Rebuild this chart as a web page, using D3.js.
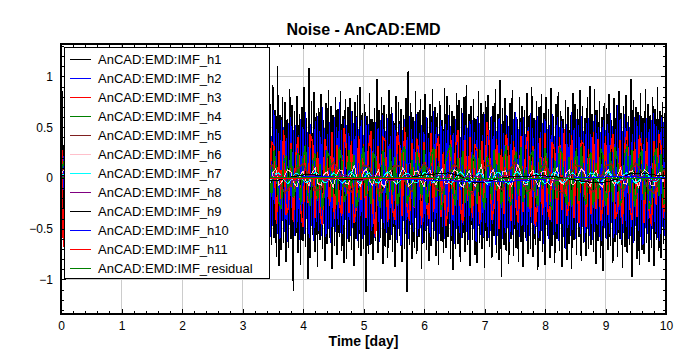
<!DOCTYPE html>
<html>
<head>
<meta charset="utf-8">
<script src="https://cdn.jsdelivr.net/npm/d3@7"></script>
<style>
  body { margin: 0; background: #fff; }
  text { font-family: Arial, "Liberation Sans", sans-serif; }
</style>
</head>
<body>
<svg id="chart" width="688" height="352"></svg>
<script>
// ---- data ----
var seriesNames = ["AnCAD:EMD:IMF_h1", "AnCAD:EMD:IMF_h2", "AnCAD:EMD:IMF_h3", "AnCAD:EMD:IMF_h4",
    "AnCAD:EMD:IMF_h5", "AnCAD:EMD:IMF_h6", "AnCAD:EMD:IMF_h7", "AnCAD:EMD:IMF_h8",
    "AnCAD:EMD:IMF_h9", "AnCAD:EMD:IMF_h10", "AnCAD:EMD:IMF_h11", "AnCAD:EMD:IMF_residual"];
var seriesColors = ["#000000", "#0000ff", "#ff0000", "#008000", "#802020", "#ffc0cb",
    "#00ffff", "#800080", "#000000", "#0000ff", "#ff0000", "#008000"];
// sample spacing (days) of each stored series, all starting at t = 0
var seriesSteps = [0.02, 0.02, 0.04, 0.04, 0.1, 0.05, 0.05, 0.1, 0.2, 0.5, 1, 1];
// drawn line widths
var seriesWidths = [1.5, 1, 1.5, 1.5, 1.5, 1, 1, 1, 1, 1, 1.5, 1];

var xTicks = [0, 1, 2, 3, 4, 5, 6, 7, 8, 9, 10];
var yTicks = [-1, -0.5, 0, 0.5, 1];

var h1 = [
  -0.92, 0.86, -0.61, 0.72, -0.55, 0.48, -0.77, 0.63, -0.42, 0.81,
  -0.66, 0.57, -0.83, 0.39, -0.58, 0.74, -0.49, 0.92, -0.71, 0.53,
  -0.62, 0.68, -0.88, 0.45, -0.51, 0.79, -0.67, 0.58, -0.74, 0.61,
  -0.46, 0.85, -0.59, 0.47, -0.96, 0.66, -0.53, 0.72, -0.64, 0.51,
  -0.78, 0.62, -0.44, 0.89, -0.57, 0.69, -0.71, 0.43, -0.63, 0.77,
  -0.52, 0.60, -0.84, 0.55, -0.69, 0.73, -0.48, 0.64, -0.79, 0.49,
  -0.58, 0.87, -0.65, 0.52, -0.73, 0.70, -0.56, 0.95, -0.62, 0.58,
  -0.81, 0.46, -0.68, 0.75, -0.50, 0.63, -0.90, 0.54, -0.61, 0.82,
  -0.55, 0.67, -0.72, 0.48, -0.66, 0.78, -0.43, 0.71, -0.58, 0.80,
  -0.62, 0.74, -0.83, 0.66, -0.71, 0.79, -0.61, 0.58, -0.65, 0.84,
  -0.76, 0.63, -0.70, 0.68, -0.60, 0.77, -0.72, 0.69, -0.87, 0.56,
  -0.67, 0.88, -0.54, 0.71, -0.79, 0.62, -0.93, 0.74, -0.58, 0.83,
  -0.66, 0.59, -0.80, 0.90, -0.63, 0.67, -0.82, 0.72, -0.59, 0.81,
  -0.70, 0.78, -0.64, 0.73, -0.85, 0.60, -0.74, 0.87, -0.57, 0.69,
  -0.82, 0.64, -0.68, 0.79, -0.75, 0.65, -0.61, 0.70, -0.77, 0.58,
  -0.69, 0.84, -0.73, 0.61, -0.88, 0.76, -0.55, 0.68, -0.81, 0.89,
  -0.63, 0.57, -0.76, 0.82, -0.60, 0.71, -0.90, 0.65, -0.58, 0.86,
  -0.72, 0.60, -0.84, 0.73, -0.66, 0.92, -0.59, 0.67, -0.78, 1.10,
  -0.87, 0.62, -0.71, 0.80, -0.64, 0.75, -0.83, 0.58, -0.69, 0.88,
  -0.60, 0.72, -1.11, 0.66, -0.57, 0.81, -0.74, 0.63, -0.86, 0.70,
  -0.62, 0.90, -0.68, 0.59, -1.00, 1.08, -0.79, 0.76, -0.56, 0.85,
  -0.73, 0.64, -0.88, 0.69, -0.61, 0.83, -0.70, 0.57, -0.82, 0.74,
  -0.65, 0.87, -0.59, 0.71, -0.90, 0.62, -0.67, 0.80, -0.76, 0.68,
  -0.58, 0.86, -0.72, 0.61, -0.84, 0.78, -0.80, 0.70, -0.63, 0.79,
  -0.71, 0.66, -0.87, 0.75, -0.60, 0.82, -0.69, 0.90, -0.77, 0.64,
  -0.70, 0.73, -1.12, 0.61, -0.75, 0.84, -0.66, 0.58, -0.81, 0.69,
  -0.62, 0.98, -0.74, 0.67, -0.59, 0.80, -0.85, 0.72, -0.68, 0.63,
  -0.79, 0.87, -0.61, 0.70, -0.73, 0.56, -0.88, 0.81, -0.64, 0.75,
  -0.57, 0.68, -0.83, 0.62, -0.70, 0.79, -1.12, 1.05, -0.66, 0.74,
  -0.80, 0.60, -0.69, 0.86, -0.75, 0.65, -0.58, 0.78, -0.90, 0.67,
  -0.64, 0.83, -0.71, 0.59, -0.82, 0.73, -0.67, 0.88, -0.60, 0.70,
  -0.77, 0.64, -0.86, 0.76, -0.62, 0.57, -0.74, 0.89, -0.69, 0.81,
  -0.58, 0.72, -0.80, 0.66, -0.91, 0.61, -0.70, 0.84, -0.65, 0.77,
  -0.83, 0.69, -0.59, 0.80, -0.73, 0.92, -0.66, 0.63, -0.87, 0.71,
  -0.61, 0.78, -0.76, 0.58, -0.84, 0.86, -0.64, 0.74, -0.70, 0.65,
  -0.89, 0.76, -0.62, 0.82, -0.68, 0.60, -0.79, 0.71, -0.57, 0.88,
  -0.74, 0.63, -0.81, 0.97, -0.98, 0.69, -0.66, 0.79, -0.72, 0.61,
  -0.85, 0.74, -0.60, 0.87, -0.77, 0.65, -0.69, 0.58, -0.83, 0.80,
  -0.63, 0.71, -0.88, 0.67, -0.59, 0.84, -0.75, 0.62, -0.70, 0.90,
  -0.78, 0.59, -0.66, 0.76, -0.91, 0.70, -0.62, 0.83, -0.73, 0.64,
  -0.86, 0.80, -0.57, 0.68, -0.79, 0.89, -0.67, 0.61, -0.84, 0.73,
  -0.60, 0.85, -0.72, 0.66, -0.88, 0.58, -0.69, 0.77, -0.81, 0.70,
  -0.65, 0.62, -0.90, 0.84, -0.61, 0.73, -0.76, 0.68, -0.58, 0.87,
  -0.82, 0.71, -0.64, 0.59, -0.77, 0.80, -0.70, 0.91, -0.66, 0.63,
  -0.73, 0.88, -0.85, 0.67, -0.62, 0.76, -0.79, 0.60, -0.92, 0.74,
  -0.59, 0.69, -0.71, 0.83, -0.67, 0.57, -0.84, 0.79, -0.63, 0.72,
  -0.78, 0.86, -0.60, 0.64, -0.89, 0.71, -0.68, 0.82, -0.74, 0.61,
  -0.66, 0.98, -0.98, 0.77, -0.62, 0.70, -0.80, 0.65, -0.86, 0.84,
  -0.71, 0.59, -0.75, 0.88, -0.64, 0.73, -0.83, 0.62, -0.69, 0.80,
  -0.87, 0.68, -0.61, 0.90, -0.72, 0.66, -0.79, 0.75, -0.65, 0.64,
  -0.70
];
var h2 = [
  0.48, -0.31, 0.22, -0.45, 0.38, -0.12, 0.52, -0.41, 0.27, -0.35,
  0.48, -0.29, 0.18, -0.55, 0.39, -0.20, 0.44, -0.33, 0.51, -0.42,
  0.26, -0.57, 0.37, -0.15, 0.35, -0.47, 0.29, -0.40, 0.50, -0.32,
  0.24, -0.58, 0.41, -0.21, 0.36, -0.49, 0.55, -0.30, 0.18, -0.44,
  0.39, -0.31, 0.53, -0.26, 0.43, -0.47, 0.25, -0.38, 0.60, -0.34,
  0.28, -0.51, 0.36, -0.22, 0.45, -0.40, 0.19, -0.58, 0.42, -0.30,
  0.50, -0.25, 0.33, -0.46, 0.56, -0.37, 0.23, -0.43, 0.38, -0.52,
  0.27, -0.35, 0.47, -0.21, 0.54, -0.39, 0.31, -0.49, 0.40, -0.28,
  0.46, -0.53, 0.24, -0.37, 0.55, -0.42, 0.30, -0.60, 0.41, -0.26,
  0.52, -0.45, 0.34, -0.62, 0.48, -0.33, 0.57, -0.40, 0.29, -0.55,
  0.44, -0.50, 0.36, -0.65, 0.53, -0.31, 0.46, -0.58, 0.39, -0.47,
  0.56, -0.35, 0.49, -0.60, 0.44, -0.38, 0.52, -0.38, 0.63, -0.47,
  0.41, -0.59, 0.56, -0.33, 0.49, -0.54, 0.37, -0.62, 0.45, -0.40,
  0.60, -0.51, 0.34, -0.57, 0.52, -0.43, 0.66, -0.48, 0.39, -0.55,
  0.47, -0.36, 0.58, -0.61, 0.43, -0.50, 0.55, -0.32, 0.50, -0.58,
  0.38, -0.46, 0.63, -0.53, 0.42, -0.60, 0.49, -0.37, 0.56, -0.45,
  0.51, -0.64, 0.40, -0.49, 0.59, -0.41, 0.46, -0.56, 0.35, -0.52,
  0.62, -0.44, 0.53, -0.58, 0.41, -0.47, 0.67, -0.39, 0.48, -0.55,
  0.44, -0.60, 0.57, -0.42, 0.50, -0.53, 0.39, -0.63, 0.54, -0.46,
  0.60, -0.38, 0.47, -0.57, 0.52, -0.49, 0.42, -0.61, 0.58, -0.44,
  0.50, -0.55, 0.65, -0.40, 0.45, -0.59, 0.53, -0.47, 0.38, -0.62,
  0.56, -0.43, 0.61, -0.52, 0.46, -0.57, 0.70, -0.45, 0.49, -0.58,
  0.43, -0.50, 0.55, -0.64, 0.41, -0.48, 0.60, -0.53, 0.50, -0.46,
  0.75, -0.54, 0.47, -0.55, 0.58, -0.41, 0.52, -0.60, 0.44, -0.57,
  0.66, -0.49, 0.54, -0.43, 0.60, -0.62, 0.48, -0.51, 0.57, -0.60,
  0.42, -0.56, 0.61, -0.47, 0.53, -0.66, 0.45, -0.52, 0.38, -0.59,
  0.55, -0.44, 0.49, -0.63, 0.57, -0.40, 0.62, -0.50, 0.46, -0.54,
  0.59, -0.48, 0.41, -0.56, 0.64, -0.45, 0.52, -0.61, 0.43, -0.50,
  0.53, -0.67, 0.47, -0.42, 0.58, -0.55, 0.40, -0.60, 0.61, -0.46,
  0.48, -0.53, 0.56, -0.39, 0.63, -0.57, 0.44, -0.49, 0.52, -0.64,
  0.45, -0.51, 0.60, -0.47, 0.39, -0.58, 0.55, -0.43, 0.66, -0.52,
  0.50, -0.62, 0.43, -0.55, 0.57, -0.48, 0.46, -0.60, 0.53, -0.41,
  0.62, -0.45, 0.51, -0.57, 0.44, -0.65, 0.58, -0.50, 0.47, -0.54,
  0.40, -0.59, 0.64, -0.46, 0.52, -0.53, 0.49, -0.61, 0.56, -0.42,
  0.57, -0.50, 0.45, -0.63, 0.60, -0.47, 0.54, -0.56, 0.42, -0.58,
  0.63, -0.44, 0.50, -0.59, 0.47, -0.52, 0.61, -0.45, 0.55, -0.66,
  0.46, -0.57, 0.59, -0.41, 0.53, -0.60, 0.44, -0.54, 0.62, -0.49,
  0.51, -0.63, 0.42, -0.56, 0.58, -0.46, 0.65, -0.51, 0.48, -0.58,
  0.55, -0.47, 0.60, -0.53, 0.43, -0.62, 0.50, -0.57, 0.64, -0.44,
  0.49, -0.55, 0.57, -0.48, 0.61, -0.59, 0.45, -0.52, 0.54, -0.65,
  0.58, -0.46, 0.48, -0.60, 0.52, -0.43, 0.63, -0.56, 0.41, -0.53,
  0.60, -0.62, 0.50, -0.45, 0.56, -0.58, 0.47, -0.70, 0.53, -0.49,
  0.44, -0.57, 0.65, -0.51, 0.49, -0.60, 0.58, -0.44, 0.52, -0.55,
  0.61, -0.48, 0.46, -0.63, 0.54, -0.50, 0.59, -0.57, 0.43, -0.61,
  0.56, -0.53, 0.62, -0.46, 0.50, -0.58, 0.45, -0.62, 0.57, -0.49,
  0.47, -0.60, 0.53, -0.55, 0.64, -0.44, 0.51, -0.59, 0.48, -0.56,
  0.72, -0.51, 0.58, -0.61, 0.46, -0.54, 0.63, -0.48, 0.55, -0.60,
  0.50, -0.57, 0.43, -0.64, 0.60, -0.47, 0.56, -0.52, 0.62, -0.58,
  0.45, -0.66, 0.54, -0.49, 0.59, -0.55, 0.48, -0.61, 0.57, -0.50,
  0.64, -0.53, 0.51, -0.59, 0.47, -0.62, 0.60, -0.48, 0.55, -0.57,
  0.60
];
var h3 = [
  0.72, -0.68, 0.41, -0.33, 0.12, 0.29, -0.36, 0.22, -0.18, -0.40,
  0.31, 0.38, -0.15, 0.27, -0.42, -0.24, 0.19, -0.30, 0.44, 0.16,
  -0.28, 0.35, -0.21, -0.37, 0.33, 0.25, -0.12, 0.40, -0.34, -0.27,
  0.22, -0.19, 0.39, 0.30, -0.43, 0.18, -0.26, 0.34, -0.38, -0.14,
  0.28, 0.42, -0.31, 0.20, -0.35, -0.23, 0.37, -0.17, 0.26, -0.41,
  0.33, -0.22, -0.36, 0.45, 0.14, -0.29, 0.31, -0.39, 0.21, 0.36,
  -0.25, 0.18, -0.44, -0.30, 0.38, 0.27, -0.16, 0.32, -0.37, 0.24,
  -0.20, 0.41, -0.33, 0.15, 0.35, -0.42, -0.26, 0.29, -0.18, 0.39,
  -0.34, 0.23, 0.44, -0.28, -0.38, 0.19, -0.24, 0.36, 0.31, -0.45,
  0.27, -0.21, 0.47, -0.36, -0.29, 0.34, -0.43, 0.22, 0.40, -0.31,
  -0.48, 0.30, -0.25, 0.43, 0.35, -0.39, 0.26, -0.33, -0.46, 0.38,
  0.21, -0.28, 0.45, -0.40, 0.32, -0.24, -0.37, 0.49, 0.27, -0.34,
  0.36, -0.44, -0.30, 0.41, -0.22, 0.33, -0.39, 0.28, 0.46, -0.35,
  -0.58, 0.31, -0.26, 0.40, 0.37, -0.43, 0.24, -0.32, -0.41, 0.45,
  0.29, -0.37, 0.50, -0.27, -0.42, 0.34, -0.30, 0.39, 0.22, -0.46,
  0.35, -0.25, -0.40, 0.44, -0.33, 0.28, 0.41, -0.38, 0.26, -0.47,
  -0.31, 0.42, -0.36, 0.30, 0.47, -0.29, -0.44, 0.37, -0.23, 0.40,
  -0.39, 0.33, 0.27, -0.45, 0.36, -0.30, 0.55, 0.32, -0.41, -0.28,
  0.38, -0.50, 0.29, -0.35, 0.43, 0.24, -0.42, 0.36, -0.27, -0.44,
  0.41, -0.33, 0.28, 0.46, -0.38, 0.31, -0.47, -0.25, 0.39, -0.36,
  0.44, -0.29, -0.41, 0.35, 0.27, -0.45, 0.40, -0.32, 0.48, -0.37,
  -0.26, 0.42, -0.39, 0.30, -0.44, 0.36, 0.33, -0.48, 0.29, -0.35,
  0.45, -0.31, 0.38, -0.42, -0.27, 0.41, -0.36, 0.26, 0.43, -0.40,
  -0.33, 0.37, -0.45, 0.32, 0.46, -0.29, -0.41, 0.35, -0.38, 0.42,
  0.28, -0.44, 0.39, -0.31, -0.47, 0.36, -0.27, 0.43, 0.30, -0.39,
  0.30
];
var h4 = [
  0.05, 0.14, 0.21, -0.08, -0.23, -0.15, 0.10, 0.24, -0.12, 0.06,
  0.27, 0.18, -0.20, -0.26, 0.09, -0.14, 0.22, 0.28, 0.11, -0.19,
  -0.29, -0.07, 0.16, -0.21, 0.25, 0.13, -0.24, -0.18, 0.08, 0.26,
  -0.11, -0.27, 0.20, 0.30, 0.15, -0.16, 0.07, -0.25, -0.22, 0.19,
  0.24, -0.09, 0.17, -0.28, -0.13, 0.23, 0.29, -0.17, -0.24, 0.12,
  -0.06, 0.21, 0.27, -0.20, 0.10, -0.30, -0.15, 0.18, 0.25, -0.12,
  0.14, -0.23, -0.27, 0.09, 0.22, 0.31, -0.14, -0.21, 0.16, -0.08,
  0.26, -0.25, -0.18, 0.13, 0.28, -0.10, 0.20, -0.29, -0.16, 0.23,
  0.30, 0.12, -0.22, 0.17, -0.26, -0.11, 0.24, -0.19, 0.27, 0.08,
  -0.24, -0.30, 0.15, 0.22, -0.13, 0.29, -0.20, -0.09, 0.25, -0.27,
  0.18, 0.32, -0.16, -0.28, 0.11, 0.24, -0.23, 0.14, -0.31, -0.12,
  0.26, 0.21, -0.19, 0.09, -0.27, 0.30, 0.17, -0.24, -0.15, 0.28,
  -0.10, 0.23, -0.29, -0.21, 0.16, 0.31, -0.18, 0.12, -0.26, 0.25,
  0.19, -0.14, -0.30, 0.27, 0.08, -0.22, 0.29, -0.17, 0.21, -0.28,
  -0.11, 0.24, 0.31, -0.25, -0.16, 0.18, -0.29, 0.26, 0.13, -0.20,
  0.28, -0.27, -0.12, 0.22, 0.30, -0.19, 0.15, -0.31, -0.23, 0.17,
  0.26, 0.33, -0.14, -0.28, 0.20, -0.09, 0.27, -0.25, 0.12, -0.30,
  0.23, 0.18, -0.26, 0.29, -0.16, -0.31, 0.21, 0.11, -0.22, 0.28,
  -0.13, 0.25, -0.30, 0.19, 0.32, -0.21, -0.27, 0.14, 0.26, -0.18,
  0.30, -0.24, 0.10, -0.29, 0.22, 0.27, -0.15, -0.28, 0.20, -0.11,
  0.29, 0.16, -0.25, -0.31, 0.18, -0.20, 0.30, 0.24, -0.14, -0.27,
  0.21, -0.29, 0.13, 0.28, -0.23, 0.31, -0.17, -0.26, 0.19, 0.25,
  -0.30, 0.15, -0.21, 0.29, 0.22, -0.28, -0.12, 0.26, -0.24, 0.30,
  0.17, -0.27, -0.20, 0.23, 0.31, -0.16, 0.28, -0.29, -0.13, 0.21,
  0.27, -0.22, 0.14, -0.30, -0.25, 0.20, 0.29, -0.18, 0.24, -0.26,
  -0.20
];
var h5 = [
  0.06, 0.12, -0.04, -0.13, 0.02, 0.14, 0.09, -0.08, -0.15, -0.03,
  0.10, 0.13, -0.06, -0.12, 0.04, 0.15, 0.05, -0.11, -0.14, 0.01,
  0.12, 0.08, -0.09, -0.16, -0.02, 0.11, 0.14, -0.05, -0.13, 0.03,
  0.15, 0.07, -0.10, -0.12, 0.06, 0.13, -0.04, -0.15, -0.07, 0.09,
  0.14, 0.02, -0.12, -0.11, 0.05, 0.16, 0.06, -0.09, -0.14, 0.00,
  0.13, 0.10, -0.07, -0.15, -0.01, 0.12, 0.12, -0.06, -0.13, 0.04,
  0.15, 0.05, -0.11, -0.14, 0.03, 0.14, 0.08, -0.10, -0.16, -0.02,
  0.11, 0.13, -0.05, -0.12, 0.06, 0.16, 0.04, -0.13, -0.11, 0.07,
  0.14, 0.03, -0.12, -0.15, 0.01, 0.13, 0.11, -0.08, -0.14, -0.03,
  0.12, 0.14, -0.06, -0.13, 0.05, 0.15, 0.06, -0.10, -0.15, 0.02,
  0.10
];
var h6 = [
  0.04, 0.08, -0.02, -0.07, 0.03, 0.09, -0.04, -0.06, 0.05, 0.07,
  -0.03, -0.09, 0.02, 0.06, 0.08, -0.05, -0.07, 0.04, 0.10, -0.02,
  -0.08, -0.04, 0.06, 0.07, -0.05, -0.09, 0.03, 0.08, 0.05, -0.06,
  -0.07, 0.02, 0.09, -0.03, -0.08, 0.04, 0.06, -0.05, -0.10, 0.03,
  0.07, 0.08, -0.04, -0.06, 0.05, 0.09, -0.02, -0.07, -0.05, 0.06,
  0.08, -0.03, -0.09, 0.04, 0.07, -0.06, -0.08, 0.02, 0.10, 0.05,
  -0.05, -0.07, 0.03, 0.08, -0.04, -0.09, 0.06, 0.07, -0.02, -0.06,
  0.05, 0.09, -0.07, -0.04, 0.03, 0.08, 0.06, -0.05, -0.09, 0.02,
  0.07, -0.03, -0.08, 0.05, 0.10, -0.06, -0.07, 0.04, 0.06, -0.02,
  -0.09, 0.03, 0.08, 0.07, -0.05, -0.06, 0.04, 0.13, -0.04, -0.08,
  0.06, 0.09, -0.03, -0.07, 0.02, 0.08, -0.06, -0.09, 0.05, 0.07,
  -0.04, -0.06, 0.03, 0.10, 0.04, -0.08, -0.05, 0.06, 0.07, -0.03,
  -0.09, 0.05, 0.08, -0.02, -0.07, 0.04, 0.09, -0.06, -0.05, 0.03,
  0.08, 0.06, -0.07, -0.09, 0.02, 0.07, -0.04, -0.08, 0.05, 0.12,
  -0.03, -0.06, 0.04, 0.08, -0.05, -0.10, 0.06, 0.07, -0.02, -0.08,
  0.03, 0.13, 0.05, -0.06, -0.07, 0.04, 0.08, -0.03, -0.09, 0.06,
  0.07, -0.05, -0.08, 0.02, 0.10, -0.04, -0.06, 0.05, 0.08, -0.07,
  -0.05, 0.03, 0.09, 0.06, -0.04, -0.08, 0.04, 0.07, -0.06, -0.09,
  0.05, 0.08, -0.02, -0.07, 0.03, 0.10, -0.05, -0.06, 0.06, 0.07,
  -0.03, -0.09, 0.04, 0.08, 0.05, -0.07, -0.08, 0.02, 0.06, -0.04,
  0.05
];
var h7 = [
  0.02, 0.04, 0.03, -0.01, -0.04, -0.03, 0.01, 0.05, 0.04, 0.00,
  -0.03, -0.05, -0.02, 0.02, 0.04, 0.03, -0.02, -0.04, -0.02, 0.03,
  0.05, 0.02, -0.02, -0.05, -0.03, 0.01, 0.04, 0.05, 0.01, -0.03,
  -0.04, -0.01, 0.03, 0.05, 0.02, -0.03, -0.05, -0.02, 0.02, 0.04,
  0.03, -0.01, -0.04, -0.04, 0.00, 0.04, 0.06, 0.02, -0.02, -0.05,
  -0.03, 0.02, 0.05, 0.03, -0.01, -0.04, -0.05, -0.01, 0.03, 0.05,
  0.02, -0.03, -0.05, -0.02, 0.02, 0.06, 0.04, -0.01, -0.04, -0.04,
  0.00, 0.04, 0.05, 0.01, -0.03, -0.06, -0.02, 0.03, 0.05, 0.02,
  -0.02, -0.05, -0.03, 0.02, 0.06, 0.04, -0.01, -0.05, -0.04, 0.01,
  0.05, 0.03, -0.02, -0.05, -0.02, 0.03, 0.06, 0.02, -0.03, -0.05,
  -0.01, 0.04, 0.05, 0.00, -0.04, -0.05, -0.01, 0.03, 0.06, 0.03,
  -0.02, -0.06, -0.03, 0.02, 0.05, 0.04, -0.01, -0.05, -0.04, 0.01,
  0.06, 0.04, -0.02, -0.05, -0.02, 0.03, 0.05, 0.02, -0.03, -0.06,
  -0.02, 0.03, 0.06, 0.03, -0.02, -0.05, -0.03, 0.02, 0.05, 0.04,
  -0.01, -0.05, -0.04, 0.01, 0.05, 0.05, 0.00, -0.04, -0.06, -0.01,
  0.04, 0.06, 0.02, -0.03, -0.05, -0.02, 0.03, 0.05, 0.03, -0.02,
  -0.06, -0.03, 0.02, 0.06, 0.04, -0.02, -0.05, -0.03, 0.02, 0.05,
  0.03, -0.02, -0.05, -0.04, 0.01, 0.05, 0.04, -0.01, -0.05, -0.03,
  0.02, 0.06, 0.03, -0.03, -0.05, -0.02, 0.03, 0.05, 0.02, -0.02,
  -0.05, -0.03, 0.02, 0.05, 0.03, -0.01, -0.04, -0.03, 0.01, 0.03,
  0.02
];
var h8 = [
  0.01, 0.02, -0.01, -0.02, 0.00, 0.02, 0.01, -0.02, -0.02, 0.01,
  0.03, 0.01, -0.02, -0.03, 0.00, 0.02, 0.02, -0.01, -0.03, -0.01,
  0.02, 0.03, 0.00, -0.02, -0.02, 0.01, 0.03, 0.01, -0.02, -0.02,
  0.01, 0.02, -0.01, -0.03, -0.01, 0.02, 0.03, 0.00, -0.02, -0.03,
  0.00, 0.02, 0.02, -0.01, -0.03, -0.01, 0.02, 0.03, 0.00, -0.02,
  -0.02, 0.01, 0.03, 0.01, -0.02, -0.03, 0.00, 0.02, 0.02, -0.01,
  -0.03, -0.01, 0.02, 0.03, 0.00, -0.02, -0.02, 0.01, 0.03, 0.01,
  -0.02, -0.03, -0.01, 0.02, 0.02, -0.01, -0.02, -0.01, 0.02, 0.03,
  0.01, -0.02, -0.03, 0.00, 0.02, 0.02, -0.01, -0.03, -0.01, 0.02,
  0.03, 0.00, -0.02, -0.02, 0.01, 0.03, 0.01, -0.02, -0.03, 0.00,
  0.01
];
var h9 = [
  0.02, 0.03, 0.01, -0.02, -0.03, -0.01, 0.02, 0.04, 0.03, 0.00,
  -0.03, -0.04, -0.02, 0.01, 0.03, 0.02, -0.01, -0.03, -0.02, 0.01,
  0.03, 0.03, 0.01, -0.01, -0.02, -0.01, 0.00, -0.01, -0.01, 0.01,
  0.03, 0.04, 0.05, 0.02, -0.04, -0.04, -0.01, 0.01, 0.01, 0.02,
  0.02, 0.01, -0.01, -0.03, -0.045, -0.04, -0.01, 0.04, 0.05, 0.03,
  0.02
];
var h10 = [0.00, 0.01, 0.02, 0.01, -0.01, -0.02, -0.01, 0.00, 0.01, 0.01, 0.00,
  -0.01, -0.02, -0.03, -0.04, -0.03, -0.01, 0.00, 0.01, 0.01, 0.00];
var h11 = [-0.004, -0.003, -0.003, -0.002, -0.003, -0.004, -0.005, -0.005, -0.004, -0.003, -0.003];
var residual = [0.002, 0.002, 0.001, 0.001, 0.001, 0.0, 0.0, -0.001, -0.001, -0.002, -0.002];

var seriesValues = [h1, h2, h3, h4, h5, h6, h7, h8, h9, h10, h11, residual];

// ---- layout ----
var width = 688, height = 352;
var plot = { left: 61, right: 666, top: 44, bottom: 314 };

var svg = d3.select("#chart");

var x = d3.scaleLinear().domain([0, 10]).range([plot.left, plot.right]);
var y = d3.scaleLinear().domain([-1.34, 1.32]).range([plot.bottom, plot.top]);

svg.append("rect").attr("width", width).attr("height", height).attr("fill", "#fff");

svg.append("defs").append("clipPath").attr("id", "plotclip")
    .append("rect")
    .attr("x", plot.left).attr("y", plot.top)
    .attr("width", plot.right - plot.left).attr("height", plot.bottom - plot.top);

//grid
var grid = svg.append("g").attr("class", "grid")
    .attr("stroke", "#cccccc").attr("stroke-width", 1).attr("shape-rendering", "crispEdges");
grid.selectAll(".gx").data(xTicks.slice(1, -1)).enter().append("line")
    .attr("x1", function (d) { return x(d); }).attr("x2", function (d) { return x(d); })
    .attr("y1", plot.top).attr("y2", plot.bottom);
grid.selectAll(".gy").data(yTicks).enter().append("line")
    .attr("x1", plot.left).attr("x2", plot.right)
    .attr("y1", function (d) { return y(d); }).attr("y2", function (d) { return y(d); });

//series
var line = d3.line()
    .x(function (d) { return x(d[0]); })
    .y(function (d) { return y(d[1]); });

var series = seriesNames.map(function (name, k) {
    return {
        name: name,
        color: seriesColors[k],
        width: seriesWidths[k],
        points: seriesValues[k].map(function (v, i) { return [i * seriesSteps[k], v]; })
    };
});

svg.append("g").attr("clip-path", "url(#plotclip)")
    .selectAll("path").data(series).enter().append("path")
    .attr("d", function (d) { return line(d.points); })
    .attr("fill", "none")
    .attr("stroke", function (d) { return d.color; })
    .attr("stroke-width", function (d) { return d.width; })
    .attr("stroke-linejoin", "miter")
    .attr("shape-rendering", "crispEdges");

//axes (ticks point inwards on all four sides)
var xMinor = d3.range(0, 10.001, 0.2);
var yMinor = d3.range(-13, 14).map(function (d) { return d / 10; });

function styleAxis(g) {
    g.select(".domain").remove();
    g.selectAll("line").attr("stroke", "#000").attr("shape-rendering", "crispEdges");
    g.selectAll("text").attr("fill", "#000").style("font-size", "12px")
        .style("font-family", "Arial, 'Liberation Sans', sans-serif");
}

svg.append("g").attr("transform", "translate(0," + plot.bottom + ")")
    .call(d3.axisBottom(x).tickValues(xMinor).tickSize(-3).tickFormat(""))
    .call(styleAxis);
svg.append("g").attr("transform", "translate(0," + plot.bottom + ")")
    .call(d3.axisBottom(x).tickValues(xTicks).tickSize(-5).tickPadding(7.5).tickFormat(d3.format("d")))
    .call(styleAxis);
svg.append("g").attr("transform", "translate(0," + plot.top + ")")
    .call(d3.axisTop(x).tickValues(xMinor).tickSize(-3).tickFormat(""))
    .call(styleAxis);
svg.append("g").attr("transform", "translate(0," + plot.top + ")")
    .call(d3.axisTop(x).tickValues(xTicks).tickSize(-5).tickFormat(""))
    .call(styleAxis);

svg.append("g").attr("transform", "translate(" + plot.left + ",0)")
    .call(d3.axisLeft(y).tickValues(yMinor).tickSize(-3).tickFormat(""))
    .call(styleAxis);
svg.append("g").attr("transform", "translate(" + plot.left + ",0)")
    .call(d3.axisLeft(y).tickValues(yTicks).tickSize(-5).tickPadding(8).tickFormat(d3.format("")))
    .call(styleAxis);
svg.append("g").attr("transform", "translate(" + plot.right + ",0)")
    .call(d3.axisRight(y).tickValues(yMinor).tickSize(-3).tickFormat(""))
    .call(styleAxis);
svg.append("g").attr("transform", "translate(" + plot.right + ",0)")
    .call(d3.axisRight(y).tickValues(yTicks).tickSize(-5).tickFormat(""))
    .call(styleAxis);

//frame
svg.append("rect")
    .attr("x", plot.left).attr("y", plot.top)
    .attr("width", plot.right - plot.left).attr("height", plot.bottom - plot.top)
    .attr("fill", "none").attr("stroke", "#000").attr("stroke-width", 2);

//legend
var legend = svg.append("g").attr("class", "legend");
legend.append("rect")
    .attr("x", 64.5).attr("y", 47.5)
    .attr("width", 205).attr("height", 231)
    .attr("fill", "#fff").attr("stroke", "#000").attr("stroke-width", 1);

var rows = legend.selectAll(".row").data(series).enter().append("g")
    .attr("class", "row")
    .attr("transform", function (d, i) { return "translate(0," + (59.5 + i * 19) + ")"; });
rows.append("line")
    .attr("x1", 70).attr("x2", 91).attr("y1", 0).attr("y2", 0)
    .attr("stroke", function (d) { return d.color; }).attr("stroke-width", 1)
    .attr("shape-rendering", "crispEdges");
rows.append("text")
    .attr("x", 98).attr("y", 4.5)
    .style("font-size", "13px")
    .attr("fill", "#000")
    .text(function (d) { return d.name; });

//titles
svg.append("text")
    .attr("x", (plot.left + plot.right) / 2).attr("y", 35)
    .attr("text-anchor", "middle")
    .style("font-size", "16px").style("font-weight", "bold")
    .text("Noise - AnCAD:EMD");

svg.append("text")
    .attr("x", (plot.left + plot.right) / 2).attr("y", 346)
    .attr("text-anchor", "middle")
    .style("font-size", "14px").style("font-weight", "bold")
    .text("Time [day]");
</script>
</body>
</html>
